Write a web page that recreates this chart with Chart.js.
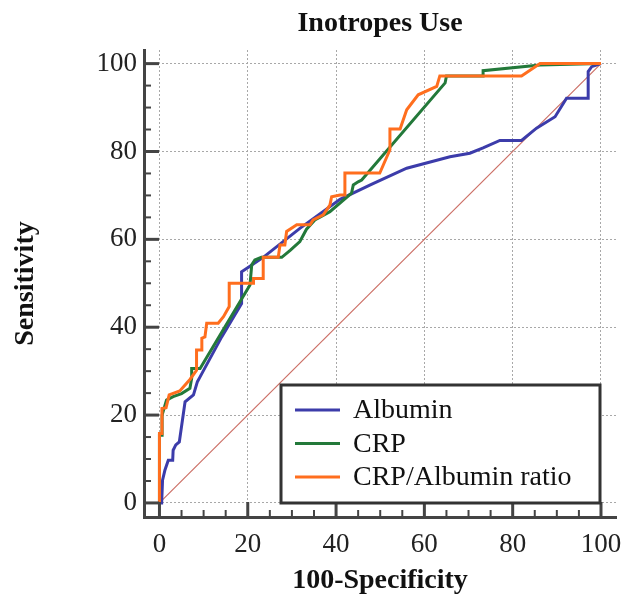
<!DOCTYPE html>
<html><head><meta charset="utf-8">
<script src="https://cdn.jsdelivr.net/npm/chart.js@4"></script>
<style>html,body{margin:0;padding:0;background:#fff}#wrap{width:625px;height:599px;position:relative}</style>
</head><body><div id="wrap"><canvas id="c" width="625" height="599"></canvas></div>
<script>
const chartTitle = 'Inotropes Use';
const xTitle = '100-Specificity';
const yTitle = 'Sensitivity';
const tickValues = [0, 20, 40, 60, 80, 100];
const minorTickValues = [0,5,10,15,20,25,30,35,40,45,50,55,60,65,70,75,80,85,90,95,100];
const seriesNames = ['Albumin', 'CRP', 'CRP/Albumin ratio'];
const seriesColors = ['#3c3caa', '#23793a', '#ff6e1e'];

const albuminX = [0,0.5,0.7,1.25,2,3,3.1,3.7,4.5,5.8,7.7,8.6,9.2,14.1,18.6,18.6,20.5,23.5,31.8,40.9,48,56,65.8,70.3,73.3,77.1,82,85.4,89.6,92.2,97.1,97.1,97.9,100];
const albuminY = [0,0,5.2,7.5,9.7,9.7,12,13.2,13.9,23,24.6,27.6,28.7,37.8,45.4,52.6,53.9,55.9,62.5,69.1,72.5,76.2,78.8,79.6,80.8,82.5,82.5,85.3,87.9,92.1,92.1,98.2,99.3,100];

const crpX = [0,0,0.6,0.6,1.6,3.1,5,6.9,7.3,7.3,9.2,20.5,20.9,21.6,23.1,27.7,29.6,31.8,33.3,35.2,38.6,43.5,43.9,45,45.8,64.7,65,73.3,73.3,86.2,100];
const crpY = [0,15.4,15.4,20,23.4,24.2,24.9,26.1,28.4,30.6,30.6,49.6,54.2,55.3,55.9,55.9,57.5,59.5,62.3,64.4,66.3,70.5,72.4,73.1,73.5,95.6,97.2,97.2,98.4,99.7,100];

const ratioX = [0,0,0.57,0.57,1.5,2.2,4.6,6.9,8.4,8.4,9.6,9.6,10.3,10.7,13.3,14.5,15.8,15.8,21.3,21.3,23.5,23.5,26.9,27.3,28.4,28.8,31.1,34.1,34.8,37.1,38.6,39,40.9,42,42,49.9,52.2,52.2,54.5,56,58.6,62.8,63.5,82,86.2,100];
const ratioY = [0,15.8,15.8,21.5,21.7,24.6,25.5,28.1,30.2,34.8,34.8,37.5,37.8,40.9,40.9,42.4,44.7,50,50,51.1,51.1,55.9,55.9,58.7,58.7,61.8,63.3,63.3,64.4,65.6,67.8,69.7,70.1,70.1,75.1,75.1,80.4,85.1,85.1,89.5,92.9,94.8,97.2,97.2,100,100];

const diagX = [0, 100];
const diagY = [0, 100];

const pts = (xs, ys) => xs.map((v, i) => ({x: v, y: ys[i]}));
const FONT = "'Liberation Serif', 'Times New Roman', serif";

const decor = {
  id: 'decor',
  afterDatasetsDraw(chart) {
    const {ctx, scales: {x, y}, chartArea: ca} = chart;
    ctx.save();
    ctx.strokeStyle = '#444';
    ctx.setLineDash([]);
    minorTickValues.forEach(v => {
      const major = tickValues.includes(v);
      const len = major ? 15 : 7;
      ctx.lineWidth = major ? 3 : 2;
      const px = x.getPixelForValue(v);
      ctx.beginPath(); ctx.moveTo(px, ca.bottom); ctx.lineTo(px, ca.bottom - len); ctx.stroke();
      const py = y.getPixelForValue(v);
      ctx.beginPath(); ctx.moveTo(ca.left, py); ctx.lineTo(ca.left + len, py); ctx.stroke();
    });
    // legend box
    const bx = ca.left + 137, by = ca.top + 335, bw = 319, bh = 118;
    ctx.fillStyle = '#fff';
    ctx.fillRect(bx, by, bw, bh);
    ctx.lineWidth = 3;
    ctx.strokeStyle = '#333';
    ctx.strokeRect(bx, by, bw, bh);
    ctx.font = '28px ' + FONT;
    ctx.textBaseline = 'middle';
    ctx.textAlign = 'left';
    seriesNames.forEach((name, i) => {
      const d = chart.data.datasets.find(ds => ds.label === name);
      const ry = by + 25 + i * 33.5;
      ctx.strokeStyle = d.borderColor;
      ctx.lineWidth = 3;
      ctx.beginPath(); ctx.moveTo(bx + 14, ry); ctx.lineTo(bx + 59, ry); ctx.stroke();
      ctx.fillStyle = '#111';
      ctx.fillText(name, bx + 72, ry + 1);
    });
    ctx.restore();
  }
};

const lineDs = (label, xs, ys, color, order) => ({
  label, data: pts(xs, ys), borderColor: color, backgroundColor: color,
  borderWidth: 3, pointRadius: 0, showLine: true, tension: 0, order, fill: false
});

new Chart(document.getElementById('c'), {
  type: 'scatter',
  data: {
    datasets: [
      lineDs(seriesNames[2], ratioX, ratioY, seriesColors[2], 1),
      lineDs(seriesNames[1], crpX, crpY, seriesColors[1], 2),
      lineDs(seriesNames[0], albuminX, albuminY, seriesColors[0], 3),
      {label: 'reference', data: pts(diagX, diagY), borderColor: '#cc6f66', borderWidth: 1.2,
       pointRadius: 0, showLine: true, tension: 0, order: 4}
    ]
  },
  options: {
    responsive: false,
    animation: false,
    devicePixelRatio: 1,
    layout: {padding: {left: 0, right: 9, top: 0, bottom: 0}},
    plugins: {
      legend: {display: false},
      tooltip: {enabled: false},
      title: {
        display: true, text: chartTitle, fullSize: false, color: '#111',
        font: {family: FONT, size: 28, weight: 'bold'},
        padding: {top: 7, bottom: 9.4}
      }
    },
    scales: {
      x: {
        type: 'linear', min: -3.5, max: 103.4,
        afterBuildTicks: s => { s.ticks = tickValues.map(v => ({value: v})); },
        afterFit: s => { s.height = 82; s.paddingLeft = 0; s.paddingRight = 0; },
        ticks: {font: {family: FONT, size: 27}, color: '#222', padding: 12, maxRotation: 0, autoSkip: false},
        grid: {color: '#a8a8a8', lineWidth: 1, drawTicks: false},
        border: {display: true, color: '#444', width: 3, dash: [2, 2]},
        title: {display: true, text: xTitle, color: '#111', font: {family: FONT, size: 28, weight: 'bold'}, padding: {top: 0, bottom: 1}}
      },
      y: {
        type: 'linear', min: -3.2, max: 103.1,
        afterBuildTicks: s => { s.ticks = tickValues.map(v => ({value: v})); },
        afterFit: s => { s.width = 144; s.paddingTop = 0; s.paddingBottom = 0; },
        ticks: {font: {family: FONT, size: 27}, color: '#222', padding: 7, autoSkip: false},
        grid: {color: '#a8a8a8', lineWidth: 1, drawTicks: false},
        border: {display: true, color: '#444', width: 3, dash: [2, 2]},
        title: {display: true, text: yTitle, color: '#111', font: {family: FONT, size: 28, weight: 'bold'}, padding: {top: 9, bottom: 0}}
      }
    }
  },
  plugins: [decor]
});
</script>
</body></html>
